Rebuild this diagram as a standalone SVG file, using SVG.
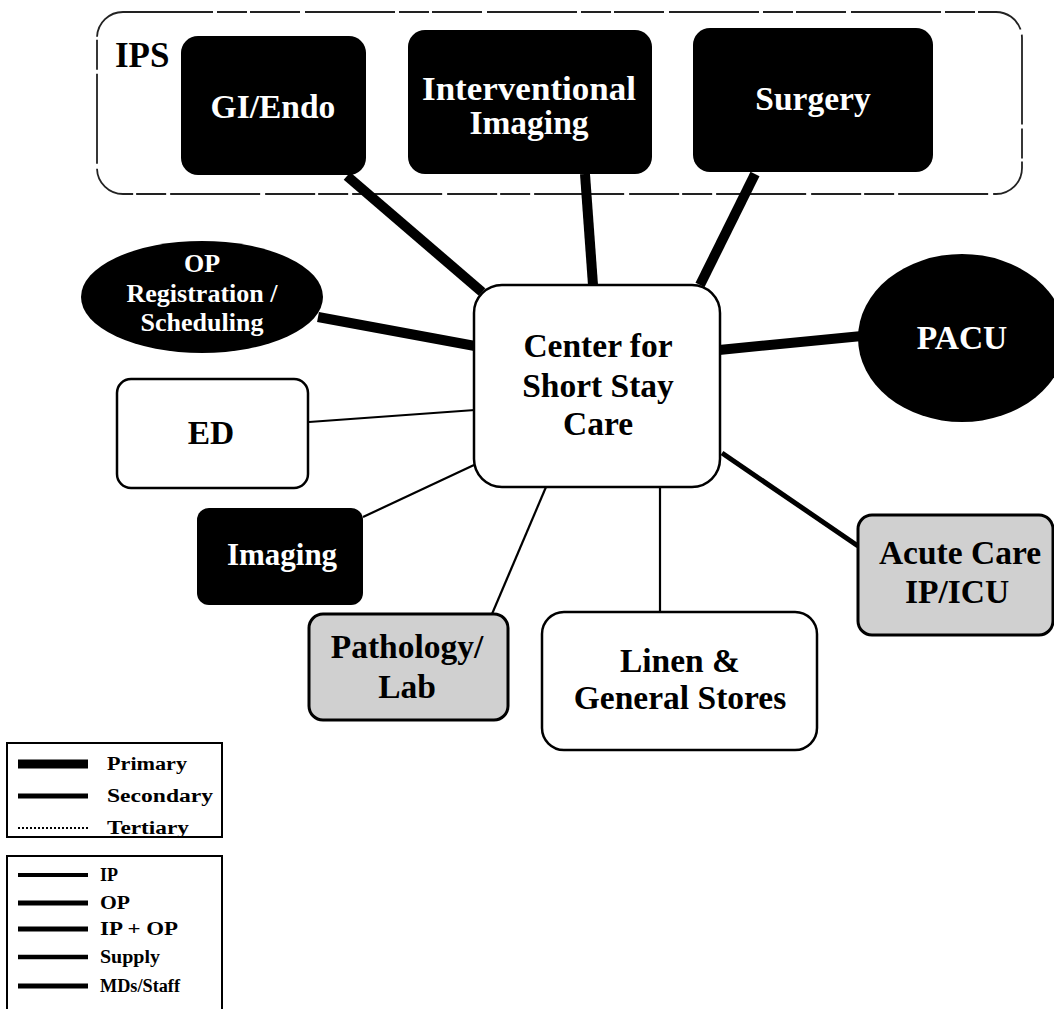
<svg xmlns="http://www.w3.org/2000/svg" width="1054" height="1009" viewBox="0 0 1054 1009">
  <style>
    .lbl { font-family: "Liberation Serif", "Times New Roman", serif; font-weight: bold; text-anchor: middle; }
    .big { font-size: 33.5px; }
    .dark-text { fill: #ffffff; }
    .light-text { fill: #000000; }
    .dark { fill: #000000; }
    .white { fill: #ffffff; stroke: #000000; stroke-width: 2.5; }
    .grey { fill: #d0d0d0; stroke: #000000; stroke-width: 3; }
    .conn { stroke: #000000; fill: none; stroke-linecap: butt; }
    .primary { stroke-width: 10; }
    .secondary { stroke-width: 5; }
    .thin { stroke-width: 2.2; }
    .legend-box { fill: #ffffff; stroke: #000000; stroke-width: 2; }
    .legend-txt { font-family: "Liberation Serif", "Times New Roman", serif; font-weight: bold; font-size: 18px; fill: #000000; }
  </style>

  <rect x="0" y="0" width="1054" height="1009" fill="#ffffff"/>

  <!-- IPS grouping frame -->
  <g id="ips-group">
    <rect x="97" y="12" width="925" height="182" rx="26" fill="none" stroke="#222222" stroke-width="1.8" stroke-dasharray="90 4 30 3 50 5"/>
    <text x="115" y="67" style="font-family: 'Liberation Serif', 'Times New Roman', serif; font-weight: bold; font-size: 35px;">IPS</text>
  </g>

  <!-- connectors -->
  <g id="connectors">
    <line class="conn primary" x1="347" y1="176" x2="482" y2="292"/>
    <line class="conn primary" x1="585" y1="174" x2="593" y2="285"/>
    <line class="conn primary" x1="755" y1="174" x2="700" y2="285"/>
    <line class="conn primary" x1="318" y1="317" x2="475" y2="346"/>
    <line class="conn primary" x1="719" y1="350" x2="862" y2="336"/>
    <line class="conn secondary" x1="722" y1="453" x2="858" y2="546"/>
    <line class="conn thin" x1="309" y1="422" x2="475" y2="410"/>
    <line class="conn thin" x1="363" y1="517" x2="474" y2="465"/>
    <line class="conn thin" x1="492" y1="614" x2="546" y2="487"/>
    <line class="conn thin" x1="660" y1="487" x2="660" y2="612" stroke-width="1.8"/>
  </g>

  <g id="gi-endo">
    <rect class="dark" x="181" y="36" width="185" height="139" rx="17"/>
    <text class="lbl big dark-text" x="273" y="118">GI/Endo</text>
  </g>

  <g id="interventional-imaging">
    <rect class="dark" x="408" y="30" width="244" height="144" rx="17"/>
    <text class="lbl big dark-text" x="529" y="100" textLength="214" lengthAdjust="spacingAndGlyphs">Interventional</text>
    <text class="lbl big dark-text" x="529" y="134">Imaging</text>
  </g>

  <g id="surgery">
    <rect class="dark" x="693" y="28" width="240" height="144" rx="17"/>
    <text class="lbl big dark-text" x="813" y="110">Surgery</text>
  </g>

  <g id="center-short-stay">
    <rect class="white" x="474" y="285" width="246" height="202" rx="28"/>
    <text class="lbl big light-text" x="598" y="357">Center for</text>
    <text class="lbl big light-text" x="598" y="397">Short Stay</text>
    <text class="lbl big light-text" x="598" y="435">Care</text>
  </g>

  <g id="op-registration">
    <ellipse class="dark" cx="202" cy="297" rx="121" ry="56"/>
    <text class="lbl dark-text" x="202" y="272" font-size="26">OP</text>
    <text class="lbl dark-text" x="202" y="302" font-size="26">Registration /</text>
    <text class="lbl dark-text" x="202" y="331" font-size="26">Scheduling</text>
  </g>

  <g id="pacu">
    <ellipse class="dark" cx="962" cy="338" rx="104" ry="84"/>
    <text class="lbl big dark-text" x="962" y="349">PACU</text>
  </g>

  <g id="ed">
    <rect class="white" x="117" y="379" width="191" height="109" rx="14"/>
    <text class="lbl big light-text" x="211" y="444">ED</text>
  </g>

  <g id="imaging">
    <rect class="dark" x="197" y="508" width="166" height="97" rx="12"/>
    <text class="lbl dark-text" x="282" y="565" font-size="31">Imaging</text>
  </g>

  <g id="acute-care">
    <rect class="grey" x="858" y="515" width="195" height="120" rx="14"/>
    <text class="lbl big light-text" x="960" y="564">Acute Care</text>
    <text class="lbl big light-text" x="957" y="603">IP/ICU</text>
  </g>

  <g id="pathology-lab">
    <rect class="grey" x="309" y="614" width="199" height="106" rx="14"/>
    <text class="lbl big light-text" x="407" y="658">Pathology/</text>
    <text class="lbl big light-text" x="407" y="698">Lab</text>
  </g>

  <g id="linen-stores">
    <rect class="white" x="542" y="612" width="275" height="138" rx="22" stroke-width="2"/>
    <text class="lbl big light-text" x="680" y="672">Linen &amp;</text>
    <text class="lbl big light-text" x="680" y="709">General Stores</text>
  </g>

  <!-- legend: line weights -->
  <g id="legend-weight">
    <rect class="legend-box" x="7" y="743" width="215" height="94"/>
    <line x1="18" y1="764" x2="88" y2="764" stroke="#000" stroke-width="9"/>
    <line x1="18" y1="796" x2="88" y2="796" stroke="#000" stroke-width="5"/>
    <line x1="18" y1="828" x2="88" y2="828" stroke="#000" stroke-width="2" stroke-dasharray="2 2"/>
    <text class="legend-txt" x="107" y="770" textLength="80" lengthAdjust="spacingAndGlyphs">Primary</text>
    <text class="legend-txt" x="107" y="802" textLength="106" lengthAdjust="spacingAndGlyphs">Secondary</text>
    <text class="legend-txt" x="107" y="834" textLength="82" lengthAdjust="spacingAndGlyphs">Tertiary</text>
  </g>

  <!-- legend: flow types -->
  <g id="legend-flow">
    <rect class="legend-box" x="7" y="856" width="215" height="170"/>
    <line x1="18" y1="875" x2="88" y2="875" stroke="#000" stroke-width="4"/>
    <line x1="18" y1="903" x2="88" y2="903" stroke="#000" stroke-width="5"/>
    <line x1="18" y1="929" x2="88" y2="929" stroke="#000" stroke-width="5"/>
    <line x1="18" y1="957" x2="88" y2="957" stroke="#000" stroke-width="4.5"/>
    <line x1="18" y1="986" x2="88" y2="986" stroke="#000" stroke-width="5"/>
    <text class="legend-txt" x="100" y="881" textLength="18" lengthAdjust="spacingAndGlyphs">IP</text>
    <text class="legend-txt" x="100" y="909" textLength="30" lengthAdjust="spacingAndGlyphs">OP</text>
    <text class="legend-txt" x="100" y="935" textLength="78" lengthAdjust="spacingAndGlyphs">IP + OP</text>
    <text class="legend-txt" x="100" y="963" textLength="60" lengthAdjust="spacingAndGlyphs">Supply</text>
    <text class="legend-txt" x="100" y="992" textLength="80" lengthAdjust="spacingAndGlyphs">MDs/Staff</text>
  </g>
</svg>
